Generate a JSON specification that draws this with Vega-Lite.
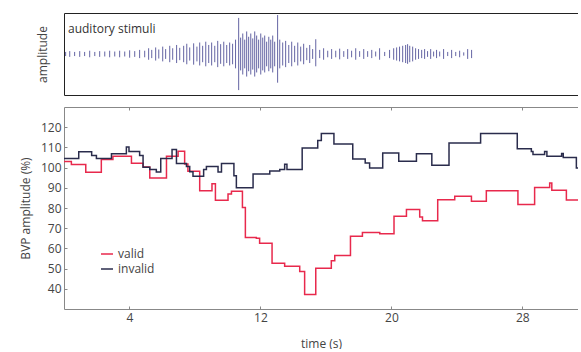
{
  "$schema": "https://vega.github.io/schema/vega-lite/v6.json",
  "padding": {"left": 19, "top": 13, "right": 0, "bottom": 0},
  "spacing": 11,
  "config": {
    "view": {"stroke": null},
    "font": "Open Sans",
    "axis": {"labelFont": "Open Sans", "titleFont": "Open Sans", "labelFontSize": 12, "titleFontSize": 12, "titleFontWeight": "normal", "labelColor": "#444", "titleColor": "#444", "grid": false}
  },
  "vconcat": [
    {
      "width": 514,
      "height": 82,
      "title": {"text": "auditory stimuli", "anchor": "start", "frame": "group", "fontSize": 12, "fontWeight": "normal", "font": "Open Sans", "color": "#333", "offset": 0, "baseline": "alphabetic", "dx": 4, "dy": 32},
      "layer": [
        {
          "data": {"values": [
            {"t":0.10,"lo":-0.05,"hi":0.05},{"t":0.35,"lo":-0.07,"hi":0.07},{"t":0.65,"lo":-0.05,"hi":0.05},{"t":0.96,"lo":-0.07,"hi":0.07},
            {"t":1.26,"lo":-0.05,"hi":0.05},{"t":1.57,"lo":-0.08,"hi":0.08},{"t":1.88,"lo":-0.05,"hi":0.05},{"t":2.18,"lo":-0.07,"hi":0.07},
            {"t":2.49,"lo":-0.06,"hi":0.06},{"t":2.79,"lo":-0.08,"hi":0.08},{"t":3.10,"lo":-0.06,"hi":0.06},{"t":3.40,"lo":-0.08,"hi":0.08},
            {"t":3.71,"lo":-0.06,"hi":0.06},{"t":4.01,"lo":-0.09,"hi":0.09},{"t":4.32,"lo":-0.07,"hi":0.07},{"t":4.62,"lo":-0.10,"hi":0.10},
            {"t":4.93,"lo":-0.08,"hi":0.08},{"t":5.17,"lo":-0.14,"hi":0.14},{"t":5.36,"lo":-0.10,"hi":0.10},{"t":5.60,"lo":-0.16,"hi":0.16},
            {"t":5.79,"lo":-0.11,"hi":0.11},{"t":6.03,"lo":-0.18,"hi":0.18},{"t":6.21,"lo":-0.12,"hi":0.12},{"t":6.46,"lo":-0.20,"hi":0.20},
            {"t":6.64,"lo":-0.14,"hi":0.14},{"t":6.88,"lo":-0.22,"hi":0.22},{"t":7.07,"lo":-0.15,"hi":0.15},{"t":7.31,"lo":-0.20,"hi":0.20},
            {"t":7.50,"lo":-0.25,"hi":0.25},{"t":7.68,"lo":-0.16,"hi":0.16},{"t":7.92,"lo":-0.26,"hi":0.26},{"t":8.12,"lo":-0.18,"hi":0.18},
            {"t":8.29,"lo":-0.28,"hi":0.28},{"t":8.47,"lo":-0.20,"hi":0.20},{"t":8.66,"lo":-0.30,"hi":0.30},{"t":8.84,"lo":-0.22,"hi":0.22},
            {"t":9.02,"lo":-0.28,"hi":0.28},{"t":9.21,"lo":-0.20,"hi":0.20},{"t":9.39,"lo":-0.32,"hi":0.32},{"t":9.57,"lo":-0.24,"hi":0.24},
            {"t":9.76,"lo":-0.30,"hi":0.30},{"t":9.94,"lo":-0.22,"hi":0.22},{"t":10.12,"lo":-0.28,"hi":0.28},{"t":10.30,"lo":-0.25,"hi":0.25},
            {"t":10.48,"lo":-0.35,"hi":0.35},{"t":10.67,"lo":-0.88,"hi":0.88},{"t":10.79,"lo":-0.40,"hi":0.40},{"t":10.92,"lo":-0.50,"hi":0.50},
            {"t":11.04,"lo":-0.35,"hi":0.35},{"t":11.16,"lo":-0.55,"hi":0.55},{"t":11.28,"lo":-0.42,"hi":0.42},{"t":11.41,"lo":-0.50,"hi":0.50},
            {"t":11.53,"lo":-0.38,"hi":0.38},{"t":11.65,"lo":-0.55,"hi":0.55},{"t":11.77,"lo":-0.45,"hi":0.45},{"t":11.89,"lo":-0.35,"hi":0.35},
            {"t":12.02,"lo":-0.50,"hi":0.50},{"t":12.14,"lo":-0.40,"hi":0.40},{"t":12.26,"lo":-0.45,"hi":0.45},{"t":12.38,"lo":-0.30,"hi":0.30},
            {"t":12.51,"lo":-0.42,"hi":0.42},{"t":12.63,"lo":-0.35,"hi":0.35},{"t":12.75,"lo":-0.45,"hi":0.45},{"t":12.87,"lo":-0.30,"hi":0.30},
            {"t":13.05,"lo":-0.70,"hi":0.95},{"t":13.18,"lo":-0.35,"hi":0.35},{"t":13.36,"lo":-0.28,"hi":0.28},{"t":13.54,"lo":-0.32,"hi":0.32},
            {"t":13.73,"lo":-0.22,"hi":0.22},{"t":13.91,"lo":-0.30,"hi":0.30},{"t":14.09,"lo":-0.20,"hi":0.20},{"t":14.28,"lo":-0.28,"hi":0.28},
            {"t":14.46,"lo":-0.18,"hi":0.18},{"t":14.64,"lo":-0.25,"hi":0.25},{"t":14.83,"lo":-0.15,"hi":0.15},{"t":15.01,"lo":-0.22,"hi":0.22},
            {"t":15.19,"lo":-0.12,"hi":0.12},{"t":15.38,"lo":-0.30,"hi":0.36},{"t":15.62,"lo":-0.10,"hi":0.10},{"t":15.86,"lo":-0.14,"hi":0.14},
            {"t":16.11,"lo":-0.08,"hi":0.08},{"t":16.35,"lo":-0.12,"hi":0.12},{"t":16.60,"lo":-0.08,"hi":0.08},{"t":16.84,"lo":-0.13,"hi":0.13},
            {"t":17.09,"lo":-0.07,"hi":0.07},{"t":17.33,"lo":-0.12,"hi":0.12},{"t":17.57,"lo":-0.08,"hi":0.08},{"t":17.82,"lo":-0.14,"hi":0.14},
            {"t":18.06,"lo":-0.07,"hi":0.07},{"t":18.31,"lo":-0.12,"hi":0.12},{"t":18.55,"lo":-0.07,"hi":0.07},{"t":18.80,"lo":-0.10,"hi":0.10},
            {"t":19.04,"lo":-0.06,"hi":0.06},{"t":19.28,"lo":-0.14,"hi":0.14},{"t":19.59,"lo":-0.05,"hi":0.05},{"t":19.89,"lo":-0.10,"hi":0.10},
            {"t":20.14,"lo":-0.14,"hi":0.14},{"t":20.32,"lo":-0.16,"hi":0.16},{"t":20.50,"lo":-0.18,"hi":0.18},{"t":20.69,"lo":-0.20,"hi":0.20},
            {"t":20.87,"lo":-0.22,"hi":0.22},{"t":20.99,"lo":-0.24,"hi":0.24},{"t":21.12,"lo":-0.20,"hi":0.20},{"t":21.30,"lo":-0.18,"hi":0.18},
            {"t":21.48,"lo":-0.14,"hi":0.14},{"t":21.66,"lo":-0.12,"hi":0.12},{"t":21.85,"lo":-0.10,"hi":0.10},{"t":22.03,"lo":-0.12,"hi":0.12},
            {"t":22.21,"lo":-0.07,"hi":0.07},{"t":22.40,"lo":-0.12,"hi":0.12},{"t":22.58,"lo":-0.06,"hi":0.06},{"t":22.76,"lo":-0.10,"hi":0.10},
            {"t":22.95,"lo":-0.06,"hi":0.06},{"t":23.19,"lo":-0.12,"hi":0.12},{"t":23.44,"lo":-0.05,"hi":0.05},{"t":23.68,"lo":-0.10,"hi":0.10},
            {"t":23.93,"lo":-0.05,"hi":0.05},{"t":24.17,"lo":-0.08,"hi":0.08},{"t":24.42,"lo":-0.04,"hi":0.04},{"t":24.66,"lo":-0.12,"hi":0.12},
            {"t":24.90,"lo":-0.10,"hi":0.10}
          ]},
          "mark": {"type": "rule", "color": "#3c3c8c", "strokeWidth": 0.8},
          "encoding": {
            "x": {"field": "t", "type": "quantitative", "scale": {"domain": [0, 31.4], "nice": false, "zero": false}, "axis": {"orient": "bottom", "labels": false, "ticks": false, "title": null, "domainColor": "#222"}},
            "y": {"field": "lo", "type": "quantitative", "scale": {"domain": [-1, 1], "nice": false}, "axis": {"title": "amplitude", "labels": false, "ticks": false, "domainColor": "#222", "titlePadding": 15}},
            "y2": {"field": "hi"}
          }
        },
        {
          "mark": {"type": "rule", "color": "#1c1c66", "strokeWidth": 2.5},
          "encoding": {
            "x": {"datum": 0, "type": "quantitative", "axis": {"orient": "top", "labels": false, "ticks": false, "title": null, "domainColor": "#222"}},
            "x2": {"datum": 24.9},
            "y": {"datum": 0, "type": "quantitative"}
          }
        },
        {
          "mark": {"type": "rule", "color": "#9a9ac4", "strokeWidth": 0.8},
          "encoding": {
            "x": {"datum": 24.9, "type": "quantitative", "axis": null},
            "x2": {"datum": 31.4},
            "y": {"datum": 0, "type": "quantitative"}
          }
        }
      ],
      "resolve": {"axis": {"x": "independent"}}
    },
    {
      "width": 514,
      "height": 202,
      "layer": [
        {
          "data": {"values": [
            {"t":0,"v":103,"s":"valid"},{"t":0.45,"v":101.5,"s":"valid"},{"t":1.33,"v":97.7,"s":"valid"},{"t":2.28,"v":104,"s":"valid"},
            {"t":2.99,"v":105.6,"s":"valid"},{"t":4.12,"v":102.1,"s":"valid"},{"t":4.83,"v":100.3,"s":"valid"},{"t":5.24,"v":94.9,"s":"valid"},
            {"t":6.26,"v":105.6,"s":"valid"},{"t":6.97,"v":108.1,"s":"valid"},{"t":7.37,"v":101.8,"s":"valid"},{"t":7.57,"v":98.2,"s":"valid"},
            {"t":8.29,"v":88.6,"s":"valid"},{"t":9.04,"v":92,"s":"valid"},{"t":9.25,"v":83.8,"s":"valid"},{"t":10.02,"v":86.9,"s":"valid"},
            {"t":10.23,"v":88.3,"s":"valid"},{"t":10.9,"v":80.3,"s":"valid"},{"t":11.08,"v":65.4,"s":"valid"},{"t":11.75,"v":65,"s":"valid"},
            {"t":11.95,"v":62.6,"s":"valid"},{"t":12.71,"v":52.7,"s":"valid"},{"t":13.48,"v":51.2,"s":"valid"},{"t":14.4,"v":48.6,"s":"valid"},
            {"t":14.7,"v":37.2,"s":"valid"},{"t":15.38,"v":50.2,"s":"valid"},{"t":16.33,"v":53.9,"s":"valid"},{"t":16.54,"v":56.5,"s":"valid"},
            {"t":17.5,"v":66,"s":"valid"},{"t":18.23,"v":67.9,"s":"valid"},{"t":19.29,"v":67.2,"s":"valid"},{"t":20.16,"v":75.9,"s":"valid"},
            {"t":20.92,"v":79.2,"s":"valid"},{"t":21.73,"v":75.5,"s":"valid"},{"t":21.9,"v":73.7,"s":"valid"},{"t":22.83,"v":84.1,"s":"valid"},
            {"t":23.87,"v":85.8,"s":"valid"},{"t":24.89,"v":83.3,"s":"valid"},{"t":25.8,"v":88.6,"s":"valid"},{"t":27.73,"v":81.7,"s":"valid"},
            {"t":28.75,"v":90.2,"s":"valid"},{"t":29.67,"v":92.4,"s":"valid"},{"t":29.8,"v":88.8,"s":"valid"},{"t":30.69,"v":84,"s":"valid"},
            {"t":31.6,"v":84,"s":"valid"},
            {"t":0,"v":104.5,"s":"invalid"},{"t":0.9,"v":107.8,"s":"invalid"},{"t":1.69,"v":106,"s":"invalid"},{"t":1.98,"v":104.5,"s":"invalid"},
            {"t":2.9,"v":106.8,"s":"invalid"},{"t":3.81,"v":110.2,"s":"invalid"},{"t":3.97,"v":108,"s":"invalid"},{"t":4.62,"v":106,"s":"invalid"},
            {"t":4.83,"v":100.2,"s":"invalid"},{"t":5.24,"v":99,"s":"invalid"},{"t":5.64,"v":97.8,"s":"invalid"},{"t":5.91,"v":104.5,"s":"invalid"},
            {"t":6.6,"v":109,"s":"invalid"},{"t":6.87,"v":102,"s":"invalid"},{"t":7.48,"v":100.5,"s":"invalid"},{"t":7.68,"v":98,"s":"invalid"},
            {"t":7.88,"v":95.7,"s":"invalid"},{"t":8.53,"v":99,"s":"invalid"},{"t":8.7,"v":100.5,"s":"invalid"},{"t":9.41,"v":97.8,"s":"invalid"},
            {"t":9.62,"v":102,"s":"invalid"},{"t":10.38,"v":96,"s":"invalid"},{"t":10.53,"v":90,"s":"invalid"},{"t":11.55,"v":96.8,"s":"invalid"},
            {"t":12.57,"v":98.3,"s":"invalid"},{"t":13.18,"v":99.1,"s":"invalid"},{"t":13.48,"v":101.6,"s":"invalid"},{"t":13.62,"v":99.1,"s":"invalid"},
            {"t":14.55,"v":109.7,"s":"invalid"},{"t":15.5,"v":113.4,"s":"invalid"},{"t":15.72,"v":116.9,"s":"invalid"},{"t":16.49,"v":111.7,"s":"invalid"},
            {"t":17.64,"v":104.3,"s":"invalid"},{"t":18.4,"v":102.3,"s":"invalid"},{"t":18.67,"v":99.8,"s":"invalid"},{"t":19.47,"v":107.2,"s":"invalid"},
            {"t":20.45,"v":103.1,"s":"invalid"},{"t":21.53,"v":106.8,"s":"invalid"},{"t":22.47,"v":101.2,"s":"invalid"},{"t":23.52,"v":112.2,"s":"invalid"},
            {"t":25.45,"v":116.9,"s":"invalid"},{"t":27.69,"v":109.3,"s":"invalid"},{"t":28.55,"v":108,"s":"invalid"},{"t":28.65,"v":106.5,"s":"invalid"},
            {"t":29.36,"v":108,"s":"invalid"},{"t":29.5,"v":105.6,"s":"invalid"},{"t":30.4,"v":107,"s":"invalid"},{"t":30.5,"v":105,"s":"invalid"},
            {"t":31.3,"v":99.8,"s":"invalid"},{"t":31.6,"v":99.8,"s":"invalid"}
          ]},
          "mark": {"type": "line", "interpolate": "step-after", "strokeWidth": 1.5, "clip": true},
          "encoding": {
            "x": {"field": "t", "type": "quantitative", "scale": {"domain": [0, 31.4], "nice": false, "zero": false},
                  "axis": {"orient": "bottom", "values": [4, 12, 20, 28], "title": "time (s)", "domainColor": "#888", "tickColor": "#888", "tickSize": -3, "labelPadding": 6, "titlePadding": 15}},
            "y": {"field": "v", "type": "quantitative", "scale": {"domain": [30, 130], "nice": false, "zero": false},
                  "axis": {"values": [40, 50, 60, 70, 80, 90, 100, 110, 120], "title": "BVP amplitude (%)", "domainColor": "#888", "tickColor": "#888", "tickSize": -3, "labelPadding": 6, "titlePadding": 8}},
            "color": {"field": "s", "type": "nominal", "sort": ["valid", "invalid"],
                      "scale": {"domain": ["valid", "invalid"], "range": ["#e8294c", "#2a2c4c"]},
                      "legend": {"orient": "none", "legendX": 36, "legendY": 234, "title": null, "symbolType": "stroke", "symbolSize": 144, "symbolStrokeWidth": 1.5, "labelFontSize": 12, "labelFont": "Open Sans", "labelColor": "#444", "rowPadding": 2, "labelOffset": 4}}
          }
        },
        {
          "mark": {"type": "rule", "strokeOpacity": 0},
          "encoding": {
            "x": {"datum": 0, "type": "quantitative", "axis": {"orient": "top", "values": [4, 12, 20, 28], "labels": false, "title": null, "domainColor": "#888", "tickColor": "#888", "tickSize": -3}}
          }
        }
      ],
      "resolve": {"axis": {"x": "independent"}}
    }
  ]
}
